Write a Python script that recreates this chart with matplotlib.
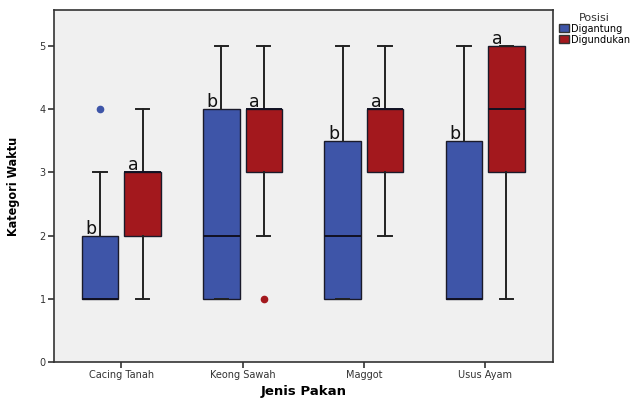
import matplotlib
matplotlib.use('Agg')
import matplotlib.pyplot as plt
from matplotlib.patches import Patch

# data
categories = ['Cacing Tanah', 'Keong Sawah', 'Maggot', 'Usus Ayam']
groups = ['Digantung', 'Digundukan']
colors = {'Digantung': '#3E55A8', 'Digundukan': '#A3181D'}

# per group: whislo, q1, med, q3, whishi, outliers
gantung_lo = [1, 1, 1, 1]
gantung_q1 = [1, 1, 1, 1]
gantung_med = [1, 2, 2, 1]
gantung_q3 = [2, 4, 3.5, 3.5]
gantung_hi = [3, 5, 5, 5]
gantung_out = [[4], [], [], []]

gunduk_lo = [1, 2, 2, 1]
gunduk_q1 = [2, 3, 3, 3]
gunduk_med = [3, 4, 4, 4]
gunduk_q3 = [3, 4, 4, 5]
gunduk_hi = [4, 5, 5, 5]
gunduk_out = [[], [1], [], []]

gantung_letter = ['b', 'b', 'b', 'b']
gunduk_letter = ['a', 'a', 'a', 'a']

fig = plt.figure(figsize=(6.36, 4.0), dpi=100)
ax = fig.add_axes([0.085, 0.095, 0.7845, 0.88])
ax.set_facecolor('#F0F0F0')

offset = 0.175
width = 0.30


def make_stats(lo, q1, med, q3, hi, out):
    return [dict(whislo=a, q1=b, med=c, q3=d, whishi=e, fliers=f)
            for a, b, c, d, e, f in zip(lo, q1, med, q3, hi, out)]


series = [
    ('Digantung', make_stats(gantung_lo, gantung_q1, gantung_med, gantung_q3, gantung_hi, gantung_out), -offset, gantung_letter, gantung_q3),
    ('Digundukan', make_stats(gunduk_lo, gunduk_q1, gunduk_med, gunduk_q3, gunduk_hi, gunduk_out), offset, gunduk_letter, gunduk_q3),
]

for name, stats, off, letters, q3 in series:
    pos = [i + off for i in range(len(categories))]
    c = colors[name]
    ax.bxp(stats, positions=pos, widths=width, patch_artist=True,
           boxprops=dict(facecolor=c, edgecolor='#1a1a2a', linewidth=1.0),
           medianprops=dict(color='#111122', linewidth=1.4),
           whiskerprops=dict(color='#222222', linewidth=1.4),
           capprops=dict(color='#222222', linewidth=1.4),
           capwidths=0.11,
           flierprops=dict(marker='o', markerfacecolor=c, markeredgecolor=c,
                           markersize=4.5, linestyle='none'),
           zorder=3)
    for p, l, y in zip(pos, letters, q3):
        ax.text(p - 0.075, y - 0.03, l, ha='center', va='bottom', fontsize=12.5,
                color='#111111', zorder=4)

ax.set_xlim(-0.555, 3.56)
ax.set_ylim(0, 5.57)
ax.set_xticks(range(len(categories)))
ax.set_xticklabels(categories, fontsize=7, color='#333333')
ax.set_yticks([0, 1, 2, 3, 4, 5])
ax.set_yticklabels(['0', '1', '2', '3', '4', '5'], fontsize=7, color='#333333')
ax.tick_params(axis='both', length=4, width=1.2, color='#333333', pad=2)
for s in ax.spines.values():
    s.set_color('#333333')
    s.set_linewidth(1.2)

ax.set_xlabel('Jenis Pakan', fontsize=9.5, fontweight='bold', labelpad=3)
ax.set_ylabel('Kategori Waktu', fontsize=9, fontweight='bold',
              fontstretch='condensed', labelpad=14)

handles = [Patch(facecolor=colors[g], edgecolor='#333333', label=g) for g in groups]
leg = fig.legend(handles=handles, title='Posisi', loc='upper left',
                 bbox_to_anchor=(0.868, 0.985), frameon=False, fontsize=7,
                 title_fontsize=8, handlelength=1.0, handleheight=0.9,
                 handletextpad=0.2, labelspacing=0.1, borderpad=0.2)
leg.get_title().set_color('#333333')

fig.savefig('out.png', dpi=100)
